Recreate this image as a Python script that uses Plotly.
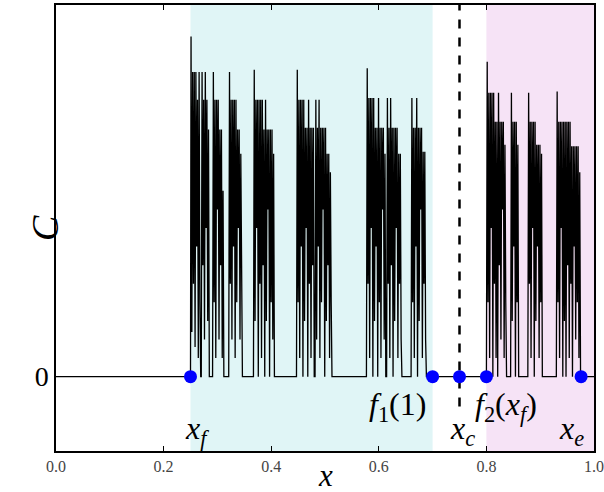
import plotly.graph_objects as go

# ---- data ----
# signal C(x): explicit points of the spiky trajectory
sig_x = [
    0.0, 0.250, 0.251, 0.2525, 0.254, 0.2555, 0.257, 0.2585, 0.260, 0.2615, 0.263, 0.2645, 0.266, 0.2675, 0.269,
    0.270, 0.2715, 0.273, 0.2745, 0.276, 0.2775, 0.279, 0.2805, 0.282, 0.2835, 0.285,
    0.291, 0.2925, 0.294, 0.2955, 0.297, 0.2985, 0.300, 0.3015, 0.303, 0.3045, 0.306, 0.3075, 0.309, 0.3105, 0.312,
    0.321, 0.3225, 0.324, 0.3255, 0.327, 0.3285, 0.330, 0.3315, 0.333, 0.3345, 0.336, 0.3375, 0.339, 0.3405, 0.342, 0.3435, 0.345, 0.3465,
    0.367, 0.3685, 0.370, 0.3715, 0.373, 0.3745, 0.376, 0.3775, 0.379, 0.3805, 0.382, 0.3835, 0.385, 0.3865, 0.388, 0.3895,
    0.391, 0.3925, 0.394, 0.3955, 0.397, 0.3985, 0.400, 0.4015, 0.403, 0.4045, 0.406,
    0.447, 0.4485, 0.450, 0.4515, 0.453, 0.4545, 0.456, 0.4575, 0.459, 0.4605, 0.462, 0.4635, 0.465, 0.4665, 0.468, 0.4695,
    0.471, 0.4725, 0.474, 0.4755, 0.477, 0.4785, 0.480, 0.4815, 0.483, 0.4845, 0.486, 0.4875, 0.489, 0.4905, 0.492, 0.4935,
    0.495, 0.4965, 0.498, 0.4995, 0.501, 0.5025, 0.504, 0.5055, 0.507, 0.5085, 0.510, 0.5115, 0.513,
    0.577, 0.5785, 0.580, 0.5815, 0.583, 0.5845, 0.586, 0.5875, 0.589, 0.5905, 0.592, 0.5935, 0.595, 0.5965, 0.598, 0.5995,
    0.601, 0.6025, 0.604, 0.6055, 0.607, 0.6085, 0.610, 0.6115, 0.613, 0.6145, 0.616, 0.6175, 0.619, 0.6205, 0.622, 0.6235,
    0.625, 0.6265, 0.628, 0.6295, 0.631, 0.6325, 0.634, 0.6355, 0.637, 0.6385, 0.640, 0.6415, 0.643,
    0.660, 0.6615, 0.663, 0.6645, 0.666, 0.6675, 0.669, 0.6705, 0.672, 0.6735, 0.675, 0.6765, 0.678, 0.6795, 0.681, 0.6825,
    0.684, 0.6855, 0.687, 0.6885,
    0.800, 0.8015, 0.803, 0.8045, 0.806, 0.8075, 0.809, 0.8105, 0.812, 0.8135, 0.815, 0.8165, 0.818, 0.8195, 0.821, 0.8225,
    0.824, 0.8255, 0.827, 0.8285, 0.830, 0.8315, 0.833, 0.8345, 0.836, 0.8375,
    0.845, 0.8465, 0.848, 0.8495, 0.851, 0.8525, 0.854, 0.8555, 0.857, 0.8585, 0.860,
    0.877, 0.8785, 0.880, 0.8815, 0.883, 0.8845, 0.886, 0.8875, 0.889, 0.8905, 0.892, 0.8935, 0.895, 0.8965, 0.898, 0.8995,
    0.901, 0.9025, 0.904,
    0.930, 0.9315, 0.933, 0.9345, 0.936, 0.9375, 0.939, 0.9405, 0.942, 0.9435, 0.945, 0.9465, 0.948, 0.9495, 0.951, 0.9525,
    0.954, 0.9555, 0.957, 0.9585, 0.960, 0.9615, 0.963, 0.9645, 0.966, 0.9675, 0.969, 0.9705, 0.972, 0.9735, 0.975,
    1.0,
]
sig_c = [
    0.0, 0.0, 0.915, 0.12, 0.82, 0.25, 0.82, 0.08, 0.82, 0.35, 0.745, 0.05, 0.82, 0.2, 0.0,
    0.0, 0.82, 0.3, 0.745, 0.1, 0.82, 0.4, 0.745, 0.15, 0.665, 0.0,
    0.0, 0.82, 0.2, 0.745, 0.05, 0.745, 0.45, 0.745, 0.1, 0.665, 0.3, 0.665, 0.05, 0.5, 0.0,
    0.0, 0.82, 0.25, 0.745, 0.1, 0.745, 0.35, 0.745, 0.05, 0.745, 0.2, 0.665, 0.4, 0.665, 0.1, 0.6, 0.3, 0.0,
    0.0, 0.826, 0.15, 0.745, 0.4, 0.745, 0.0, 0.745, 0.25, 0.745, 0.05, 0.745, 0.3, 0.665, 0.0, 0.745,
    0.15, 0.665, 0.45, 0.665, 0.0, 0.665, 0.2, 0.665, 0.1, 0.6, 0.0,
    0.0, 0.826, 0.2, 0.745, 0.05, 0.745, 0.35, 0.745, 0.0, 0.745, 0.15, 0.67, 0.4, 0.67, 0.0, 0.745,
    0.25, 0.67, 0.05, 0.67, 0.3, 0.67, 0.0, 0.0, 0.745, 0.1, 0.67, 0.35, 0.745, 0.05, 0.67, 0.2,
    0.67, 0.45, 0.67, 0.0, 0.67, 0.15, 0.6, 0.3, 0.6, 0.05, 0.55, 0.2, 0.0,
    0.0, 0.83, 0.25, 0.75, 0.05, 0.75, 0.4, 0.75, 0.0, 0.75, 0.15, 0.67, 0.35, 0.67, 0.0, 0.75,
    0.2, 0.67, 0.05, 0.67, 0.45, 0.67, 0.1, 0.6, 0.0, 0.0, 0.75, 0.25, 0.67, 0.05, 0.75, 0.3,
    0.67, 0.0, 0.67, 0.15, 0.67, 0.4, 0.67, 0.05, 0.6, 0.25, 0.6, 0.1, 0.0,
    0.0, 0.75, 0.2, 0.67, 0.05, 0.67, 0.35, 0.75, 0.0, 0.67, 0.15, 0.67, 0.45, 0.67, 0.05, 0.605,
    0.25, 0.605, 0.1, 0.0,
    0.0, 0.847, 0.2, 0.764, 0.05, 0.764, 0.4, 0.764, 0.0, 0.764, 0.25, 0.686, 0.05, 0.686, 0.0, 0.764,
    0.3, 0.686, 0.1, 0.686, 0.45, 0.686, 0.05, 0.624, 0.2, 0.0,
    0.0, 0.764, 0.15, 0.686, 0.35, 0.686, 0.0, 0.686, 0.2, 0.624, 0.0,
    0.0, 0.764, 0.25, 0.686, 0.05, 0.686, 0.4, 0.686, 0.0, 0.686, 0.15, 0.624, 0.35, 0.624, 0.05, 0.624,
    0.2, 0.6, 0.0,
    0.0, 0.767, 0.2, 0.686, 0.05, 0.686, 0.4, 0.686, 0.0, 0.686, 0.15, 0.686, 0.0, 0.686, 0.3, 0.686,
    0.05, 0.686, 0.25, 0.62, 0.0, 0.62, 0.35, 0.62, 0.1, 0.62, 0.2, 0.62, 0.05, 0.55, 0.0,
    0.0,
]

# special points on the x axis
pt_x = [0.25, 0.70, 0.75, 0.80, 0.976]
pt_c = [0, 0, 0, 0, 0]

# shaded intervals
cyan_span = [0.25, 0.70]
magenta_span = [0.80, 1.00]
x_c = 0.75

# labels
label_text = ["<i>x</i><sub><i>f</i></sub>", "<i>f</i><sub>1</sub>(1)", "<i>x</i><sub><i>c</i></sub>",
              "<i>f</i><sub>2</sub>(<i>x</i><sub><i>f</i></sub>)", "<i>x</i><sub><i>e</i></sub>"]
label_x = [0.262, 0.634, 0.756, 0.836, 0.958]
label_c = [-0.145, -0.08, -0.145, -0.08, -0.145]

xticks = [0.0, 0.2, 0.4, 0.6, 0.8, 1.0]
xtick_text = ["0.0", "0.2", "0.4", "0.6", "0.8", "1.0"]

SERIF = "Liberation Serif"

fig = go.Figure()
fig.add_trace(go.Scatter(x=sig_x, y=sig_c, mode="lines",
                         line=dict(color="black", width=1.3, simplify=False),
                         hoverinfo="skip", showlegend=False))
fig.add_trace(go.Scatter(x=pt_x, y=pt_c, mode="markers",
                         marker=dict(color="#0000ff", size=13, line=dict(width=0)),
                         showlegend=False, cliponaxis=False))

fig.add_shape(type="rect", xref="x", yref="paper", x0=cyan_span[0], x1=cyan_span[1], y0=0, y1=1,
              fillcolor="#e0f5f6", line=dict(width=0), layer="below")
fig.add_shape(type="rect", xref="x", yref="paper", x0=magenta_span[0], x1=magenta_span[1], y0=0, y1=1,
              fillcolor="#f6e3f6", line=dict(width=0), layer="below")
fig.add_shape(type="line", xref="x", yref="y", x0=x_c, x1=x_c, y0=-0.08, y1=1.0,
              line=dict(color="black", width=2.5, dash="dash"), layer="below")

for t, lx, lc in zip(label_text, label_x, label_c):
    fig.add_annotation(x=lx, y=lc, xref="x", yref="y", text=t, showarrow=False,
                       font=dict(family=SERIF, size=32, color="black"))

fig.add_annotation(x=0.5, y=-0.054, xref="paper", yref="paper", text="<i>x</i>", showarrow=False,
                   font=dict(family=SERIF, size=31, color="black"), yanchor="middle")
fig.add_annotation(x=-0.063, y=0.5, xref="paper", yref="paper", text="<i>C</i>", showarrow=False,
                   textangle=-90, font=dict(family=SERIF, size=38, color="black"))

fig.update_layout(
    width=604, height=492,
    margin=dict(l=56, r=10, t=5, b=41, autoexpand=False),
    plot_bgcolor="white", paper_bgcolor="white",
    xaxis=dict(range=[0, 1], tickvals=xticks, ticktext=xtick_text, ticks="inside", ticklen=5,
               tickcolor="black", mirror="ticks", showline=True, linecolor="black", linewidth=1.5,
               showgrid=False, zeroline=False, automargin=False,
               tickfont=dict(family=SERIF, size=16, color="#444")),
    yaxis=dict(range=[-0.2, 1.0], tickvals=[0], ticktext=["0"], ticks="inside", ticklen=5,
               tickcolor="black", mirror="ticks", showline=True, linecolor="black", linewidth=1.5,
               showgrid=False, zeroline=False, automargin=False,
               tickfont=dict(family=SERIF, size=28, color="black")),
)

fig.write_html("out.html", config={"displayModeBar": False},
               post_script="document.body.style.margin='0';document.body.style.padding='0';")
